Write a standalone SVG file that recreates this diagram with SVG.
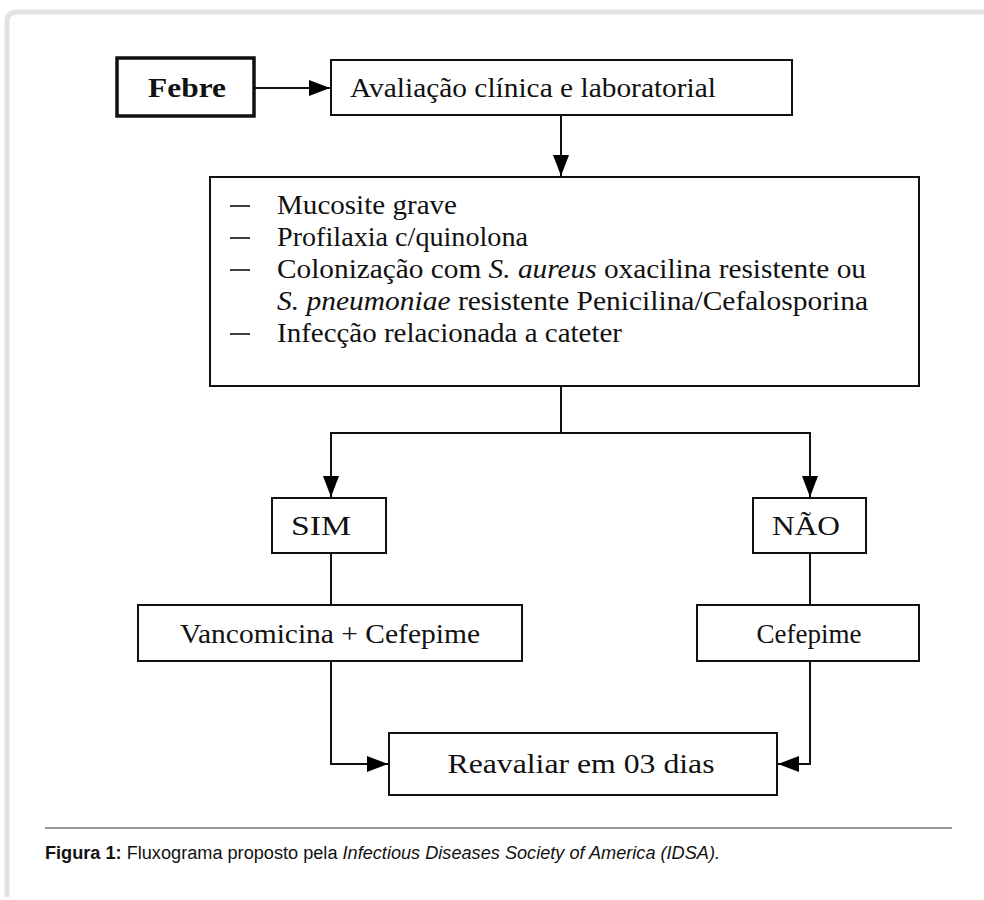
<svg xmlns="http://www.w3.org/2000/svg" width="984" height="900" viewBox="0 0 984 900">
<defs>
<marker id="ah" markerUnits="userSpaceOnUse" markerWidth="22" markerHeight="18" refX="21" refY="8" orient="auto" viewBox="0 0 22 16">
<path d="M0,0 L21,8 L0,16 z" fill="#000"/>
</marker>
<style>
.box{fill:#fff;stroke:#111;stroke-width:2}
.thick{fill:#fff;stroke:#111;stroke-width:3.5}
.t{font-family:"Liberation Serif","Times New Roman",serif;font-size:27px;fill:#111}
.c{text-anchor:middle}
.conn path{fill:none;stroke:#111;stroke-width:2}
.dash{stroke:#111;stroke-width:1.6}
.cap{font-family:"Liberation Sans",Arial,sans-serif;font-size:18px;fill:#111}
</style>
</defs>
<rect width="984" height="900" fill="#fff"/>
<path d="M7 897 V22 Q7 12 17 12 H984" fill="none" stroke="#e2e2e2" stroke-width="5"/>

<g id="febre">
<rect class="thick" x="117" y="58" width="137" height="58"/>
<text class="t c" x="187" y="97" font-weight="bold" textLength="78" lengthAdjust="spacingAndGlyphs">Febre</text>
</g>
<g id="avaliacao">
<rect class="box" x="331" y="60" width="461" height="55"/>
<text class="t" x="350" y="97" textLength="366" lengthAdjust="spacingAndGlyphs">Avaliação clínica e laboratorial</text>
</g>
<g id="criterios">
<rect class="box" x="210" y="177" width="709" height="209"/>
<line class="dash" x1="230" y1="206" x2="250" y2="206"/>
<line class="dash" x1="230" y1="238" x2="250" y2="238"/>
<line class="dash" x1="230" y1="270" x2="250" y2="270"/>
<line class="dash" x1="230" y1="334" x2="250" y2="334"/>
<text class="t" x="277" y="214" textLength="180" lengthAdjust="spacingAndGlyphs">Mucosite grave</text>
<text class="t" x="277" y="246" textLength="251" lengthAdjust="spacingAndGlyphs">Profilaxia c/quinolona</text>
<text class="t" x="277" y="278" textLength="589" lengthAdjust="spacingAndGlyphs">Colonização com <tspan font-style="italic">S. aureus</tspan>  oxacilina resistente ou</text>
<text class="t" x="277" y="310" textLength="591" lengthAdjust="spacingAndGlyphs"><tspan font-style="italic">S. pneumoniae</tspan> resistente Penicilina/Cefalosporina</text>
<text class="t" x="277" y="342" textLength="345" lengthAdjust="spacingAndGlyphs">Infecção relacionada a cateter</text>
</g>
<g id="sim">
<rect class="box" x="272" y="498" width="114" height="55"/>
<text class="t c" x="321" y="535" textLength="60" lengthAdjust="spacingAndGlyphs">SIM</text>
</g>
<g id="nao">
<rect class="box" x="753" y="498" width="113" height="55"/>
<text class="t c" x="806" y="535" textLength="68" lengthAdjust="spacingAndGlyphs">NÃO</text>
</g>
<g id="vancomicina">
<rect class="box" x="138" y="605" width="384" height="56"/>
<text class="t c" x="330" y="643" textLength="300" lengthAdjust="spacingAndGlyphs">Vancomicina + Cefepime</text>
</g>
<g id="cefepime">
<rect class="box" x="697" y="605" width="222" height="56"/>
<text class="t c" x="809" y="643" textLength="105" lengthAdjust="spacingAndGlyphs">Cefepime</text>
</g>
<g id="reavaliar">
<rect class="box" x="389" y="733" width="388" height="62"/>
<text class="t c" x="581" y="773" textLength="267" lengthAdjust="spacingAndGlyphs">Reavaliar em 03 dias</text>
</g>

<g id="connectors" class="conn">
<path d="M254 88 H330" marker-end="url(#ah)"/>
<path d="M561 115 V176" marker-end="url(#ah)"/>
<path d="M561 386 V433"/>
<path d="M561 433 H331 V497" marker-end="url(#ah)"/>
<path d="M561 433 H810 V497" marker-end="url(#ah)"/>
<path d="M331 553 V605"/>
<path d="M810 553 V605"/>
<path d="M331 661 V764 H388" marker-end="url(#ah)"/>
<path d="M810 661 V764 H778" marker-end="url(#ah)"/>
</g>

<g id="caption">
<line x1="45" y1="828" x2="952" y2="828" stroke="#777" stroke-width="1.5"/>
<text class="cap" x="45" y="859" textLength="675" lengthAdjust="spacingAndGlyphs"><tspan font-weight="bold">Figura 1:</tspan>  Fluxograma proposto pela <tspan font-style="italic">Infectious Diseases Society of America (IDSA).</tspan></text>
</g>
</svg>
